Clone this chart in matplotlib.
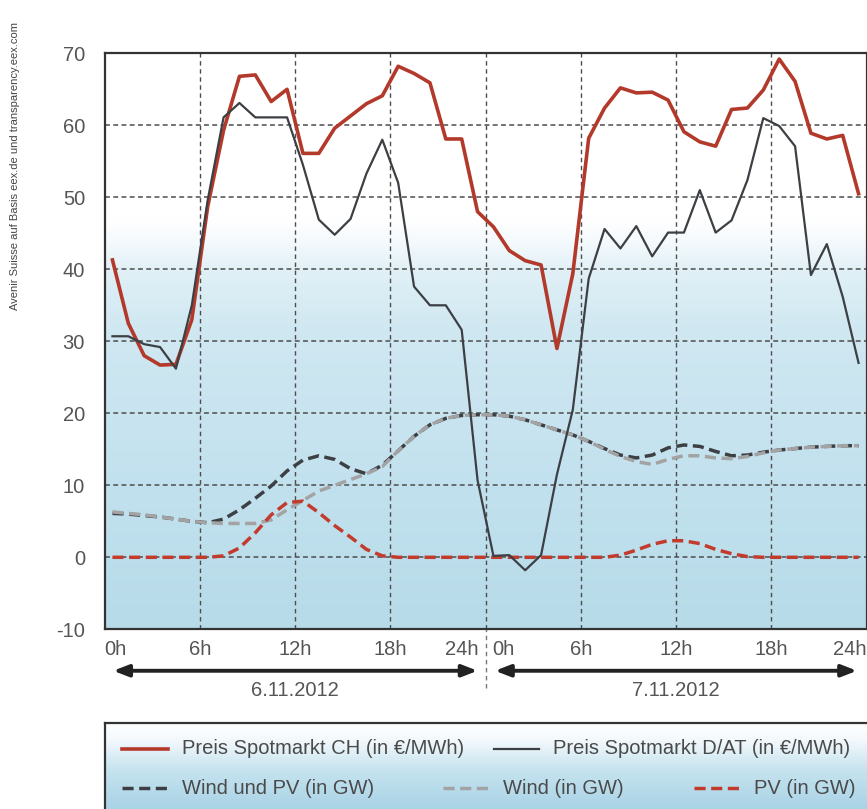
"""Spotmarkt prices CH vs D/AT and wind/PV feed-in, 6.-7.11.2012."""

import matplotlib
matplotlib.use("Agg")

import numpy as np
import matplotlib.pyplot as plt
from matplotlib.colors import LinearSegmentedColormap
from matplotlib.lines import Line2D

# ── Data (hourly values, plotted at the middle of each hour) ─────────────
hours = np.arange(48) + 0.5

price_ch = [41.3, 32.5, 28.0, 26.7, 26.8, 33.0, 48.7, 59.3, 66.8, 67.0, 63.3, 65.0,
            56.1, 56.1, 59.6, 61.3, 63.0, 64.1, 68.2, 67.2, 65.9, 58.1, 58.1, 48.0,
            45.9, 42.6, 41.2, 40.6, 29.0, 39.4, 58.2, 62.4, 65.2, 64.5, 64.6, 63.5,
            59.1, 57.7, 57.1, 62.2, 62.4, 64.9, 69.2, 66.1, 58.9, 58.1, 58.6, 50.5]

price_de = [30.7, 30.7, 29.6, 29.2, 26.2, 35.0, 49.6, 61.1, 63.1, 61.1, 61.1, 61.1,
            54.5, 46.9, 44.8, 47.0, 53.3, 58.0, 52.0, 37.6, 35.0, 35.0, 31.6, 10.7,
            0.2, 0.3, -1.8, 0.3, 11.5, 20.5, 38.7, 45.6, 42.9, 46.0, 41.8, 45.1,
            45.1, 51.0, 45.1, 46.8, 52.4, 61.0, 59.9, 57.1, 39.2, 43.5, 36.2, 27.0]

wind_pv = [6.1, 6.0, 5.8, 5.6, 5.3, 5.0, 4.8, 5.3, 6.6, 8.2, 9.9, 12.0,
           13.5, 14.1, 13.6, 12.3, 11.6, 12.8, 14.8, 16.8, 18.4, 19.3, 19.7, 19.8,
           19.8, 19.6, 19.1, 18.4, 17.7, 17.0, 16.1, 15.1, 14.2, 13.8, 14.2, 15.2,
           15.6, 15.4, 14.7, 14.1, 14.2, 14.6, 14.9, 15.1, 15.3, 15.4, 15.5, 15.5]

wind = [6.3, 6.1, 5.9, 5.6, 5.3, 5.0, 4.8, 4.7, 4.7, 4.7, 5.2, 6.6,
        7.9, 9.2, 10.0, 10.8, 11.6, 12.6, 14.8, 16.8, 18.4, 19.3, 19.7, 19.8,
        19.8, 19.6, 19.1, 18.4, 17.7, 17.0, 16.1, 15.0, 14.0, 13.3, 12.9, 13.6,
        14.1, 14.1, 13.8, 13.7, 14.0, 14.5, 14.9, 15.1, 15.3, 15.4, 15.5, 15.5]

pv = [0.0, 0.0, 0.0, 0.0, 0.0, 0.0, 0.0, 0.2, 1.3, 3.4, 5.9, 7.6,
      7.8, 6.2, 4.4, 2.8, 1.1, 0.2, 0.0, 0.0, 0.0, 0.0, 0.0, 0.0,
      0.0, 0.0, 0.0, 0.0, 0.0, 0.0, 0.0, 0.0, 0.3, 1.0, 1.8, 2.3,
      2.3, 1.9, 1.1, 0.5, 0.1, 0.0, 0.0, 0.0, 0.0, 0.0, 0.0, 0.0]

grid_hours = [6, 12, 18, 24, 30, 36, 42]
hour_ticks = [0, 6, 12, 18, 24, 24, 30, 36, 42, 48]
hour_labels = ["0h", "6h", "12h", "18h", "24h", "0h", "6h", "12h", "18h", "24h"]
day_centres = [12, 36]
day_labels = ["6.11.2012", "7.11.2012"]

# ── Colours ───────────────────────────────────────────────────────────────
RED = "#b3392b"
DARK = "#3c4044"
GREY = "#a3a3a3"
PVRED = "#c23b2c"
TEXT = "#4a4a4a"
GRID = "#4d4d4d"

FONT = ["Liberation Sans", "DejaVu Sans"]
plt.rcParams["font.family"] = FONT
plt.rcParams["axes.unicode_minus"] = False

W, H = 867, 809
fig = plt.figure(figsize=(W / 100, H / 100), dpi=100)
fig.patch.set_facecolor("white")


def fx(px):
    return px / W


def fy(py):
    return 1 - py / H


# ── Main axes ───────────────────────────────────────────────────────────
ax_top, ax_bot = 53.3, 629.3
ax = fig.add_axes([fx(104.5), fy(ax_bot), fx(866.5) - fx(104.5), fy(ax_top) - fy(ax_bot)])
ax.set_xlim(0, 48)
ax.set_ylim(-10, 70)

bg = LinearSegmentedColormap.from_list(
    "bg", [(0.0, "#b7dbe9"), (0.25, "#c2e1ee"), (0.52, "#d0e8f2"),
           (0.62, "#e0f0f6"), (0.67, "#f3f9fc"), (0.71, "#ffffff"), (1.0, "#ffffff")])
ax.imshow(np.linspace(0, 1, 256).reshape(-1, 1), cmap=bg, origin="lower",
          extent=[0, 48, -10, 70], aspect="auto", zorder=0)

for y in range(0, 70, 10):
    ax.axhline(y, color=GRID, lw=1.1, ls=(0, (3.2, 2.2)), zorder=1)
for x in grid_hours:
    ax.axvline(x, color=GRID, lw=1.0, ls=(0, (3.2, 2.6)), zorder=1)
# day separator reaches down to the date labels
ax.axvline(24, ymin=-0.102, ymax=0, color="#777777", lw=1.0,
           ls=(0, (3.2, 2.6)), clip_on=False, zorder=1)

ax.plot(hours, wind_pv, color=DARK, lw=2.5, dashes=(3.2, 1.6), zorder=3)
ax.plot(hours, wind, color=GREY, lw=2.5, dashes=(3.2, 1.6), zorder=4)
ax.plot(hours, pv, color=PVRED, lw=2.5, dashes=(3.2, 1.6), zorder=5)
ax.plot(hours, price_ch, color=RED, lw=2.6, zorder=6)
ax.plot(hours, price_de, color=DARK, lw=1.6, zorder=7)

for s in ax.spines.values():
    s.set_color("#333333")
    s.set_linewidth(1.6)

ax.set_yticks(range(-10, 71, 10))
ax.tick_params(axis="y", length=0, pad=14, labelsize=14.5, labelcolor="#555555")
ax.set_xticks([])

# hour labels below the axis
for x, lab in zip(hour_ticks, hour_labels):
    if x == 0:
        ha, dx = "left", 0
    elif x == 48:
        ha, dx = "right", 0
    elif x == 24 and lab == "24h":
        ha, dx = "right", -7
    elif x == 24:
        ha, dx = "left", 7
    else:
        ha, dx = "center", 0
    ax.annotate(lab, xy=(x, 0), xycoords=("data", "axes fraction"),
                xytext=(dx, -20), textcoords="offset pixels",
                ha=ha, va="center", fontsize=14.5, color="#555555")

# date arrows
arrow = dict(arrowstyle="<|-|>,head_length=0.9,head_width=0.35", color="#222222",
             lw=2.8, shrinkA=0, shrinkB=0)
ax.annotate("", xy=(0.55, -0.072), xytext=(23.5, -0.072),
            xycoords=("data", "axes fraction"), textcoords=("data", "axes fraction"),
            arrowprops=arrow)
ax.annotate("", xy=(24.6, -0.072), xytext=(47.4, -0.072),
            xycoords=("data", "axes fraction"), textcoords=("data", "axes fraction"),
            arrowprops=arrow)
for x, lab in zip(day_centres, day_labels):
    ax.annotate(lab, xy=(x, 0), xycoords=("data", "axes fraction"),
                xytext=(0, -61), textcoords="offset pixels",
                ha="center", va="center", fontsize=14.5, color="#555555")

# source note
fig.text(fx(15), fy(166), "Avenir Suisse auf Basis eex.de und transparency.eex.com",
         rotation=90, ha="center", va="center", fontsize=8, color="#444444",
         family=["Liberation Sans Narrow", "Liberation Sans", "DejaVu Sans"])

# ── Legend box ─────────────────────────────────────────────────────────────
leg_top = 722.7
lax = fig.add_axes([fx(104.5), 0, 1 - fx(104.5), fy(leg_top)])
lax.set_xlim(0, 1)
lax.set_ylim(0, 1)
lbg = LinearSegmentedColormap.from_list(
    "lbg", [(0.0, "#a9d3e6"), (0.45, "#c6e3ef"), (0.8, "#f4f9fc"), (1.0, "#ffffff")])
lax.imshow(np.linspace(0, 1, 256).reshape(-1, 1), cmap=lbg, origin="lower",
           extent=[0, 1, 0, 1], aspect="auto", zorder=0)
lax.set_xticks([])
lax.set_yticks([])
for k, s in lax.spines.items():
    s.set_color("#333333")
    s.set_linewidth(1.6)
    if k in ("bottom", "right"):
        s.set_visible(False)

legend_rows = [
    (749, 121.7, 168.3, RED, "-", 2.6, "Preis Spotmarkt CH (in €/MWh)"),
    (749, 493.7, 538.7, DARK, "-", 1.6, "Preis Spotmarkt D/AT (in €/MWh)"),
    (788, 121.7, 168.3, DARK, "--", 2.5, "Wind und PV (in GW)"),
    (788, 443.3, 488.7, GREY, "--", 2.5, "Wind (in GW)"),
    (788, 693.7, 740.3, PVRED, "--", 2.5, "PV (in GW)"),
]
for py, x0, x1, col, ls, lw, lab in legend_rows:
    line = Line2D([fx(x0), fx(x1)], [fy(py), fy(py)], transform=fig.transFigure,
                  color=col, lw=lw)
    if ls == "--":
        line.set_dashes((3.2, 1.6))
    fig.add_artist(line)
    fig.text(fx(x1 + 14), fy(py), lab, ha="left", va="center",
             fontsize=14.5, color=TEXT)

fig.savefig("out.png", dpi=100, facecolor="white")
